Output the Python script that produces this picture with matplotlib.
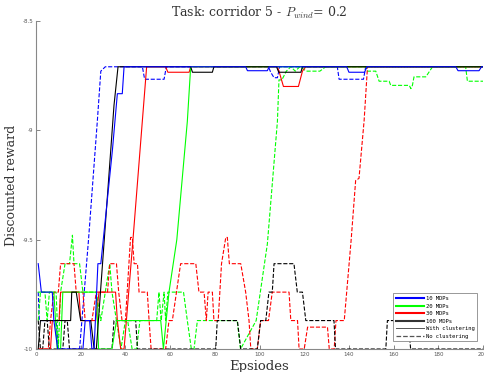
import matplotlib.pyplot as plt
from matplotlib.ticker import FormatStrFormatter

# episode / discounted-reward breakpoints
# 10 MDPs
ep_10_cl = [1, 2.4, 7.3, 8, 9.7, 21, 22, 24, 25, 26, 27.7, 29, 34.2, 36.4, 38.6, 39.4, 93.8, 94.6, 103.5, 104.3,
            139, 140, 147, 148, 187.8, 188.8, 198.2, 199.3, 200]
rw_10_cl = [-9.61, -9.74, -9.74, -9.87, -10, -10, -9.87, -9.87, -10, -10, -9.61, -9.61, -9.09, -8.833, -8.833, -8.71,
            -8.71, -8.728, -8.728, -8.71, -8.71, -8.735, -8.735, -8.71, -8.71, -8.728, -8.728, -8.71, -8.71]
ep_10_nc = [1, 1.5, 9, 10, 19.5, 23.5, 27.5, 29, 31, 47.6, 48.6, 57.3, 58.3, 104, 105, 106.5, 108, 109,
            134.8, 135.6, 146.5, 147.5, 200]
rw_10_nc = [-9.74, -9.87, -9.87, -10, -10, -9.5, -8.95, -8.73, -8.71, -8.71, -8.767, -8.767, -8.71, -8.71, -8.735,
            -8.76, -8.76, -8.71, -8.71, -8.767, -8.767, -8.71, -8.71]

# 20 MDPs
ep_20_cl = [1, 8, 9.5, 11, 12, 27, 28, 34, 36, 55.8, 57, 59.5, 63, 67.7, 69.2, 200]
rw_20_cl = [-9.74, -9.74, -10, -10, -9.74, -9.74, -10, -10, -9.87, -9.87, -10, -9.74, -9.5, -8.96, -8.71, -8.71]
ep_20_nc = [1, 2, 4, 5, 6, 9, 10, 11, 13, 15, 16.3, 17, 19.5, 21, 27, 29, 31, 33, 34, 36, 38, 40, 41, 43, 45,
            46.5, 54, 55, 56, 57.3, 58, 59, 66, 67.7, 69.5, 70.7, 72.2, 90, 91.5, 98.5, 103.5, 108, 108.7, 110,
            112, 114, 116, 118, 121, 127, 129.6, 147.5, 148.3, 152, 153.5, 158, 158.7, 167, 167.7, 168.4, 169.1,
            174.4, 177.4, 192.2, 193, 200]
rw_20_nc = [-9.87, -9.74, -9.74, -9.87, -9.74, -9.74, -10, -9.74, -9.61, -9.61, -9.48, -9.61, -9.61, -9.74,
            -9.74, -9.87, -9.74, -9.61, -9.74, -9.87, -10, -9.87, -9.87, -10, -10, -9.87, -9.87, -9.74, -9.87,
            -9.74, -9.87, -9.74, -9.74, -9.87, -10, -10, -9.87, -9.87, -10, -9.87, -9.52, -8.96, -8.77, -8.77,
            -8.73, -8.71, -8.73, -8.71, -8.73, -8.73, -8.71, -8.71, -8.73, -8.73, -8.776, -8.776, -8.795, -8.795,
            -8.81, -8.795, -8.756, -8.756, -8.71, -8.71, -8.776, -8.776]

# 30 MDPs
ep_30_cl = [1, 6.5, 7.3, 10.3, 11, 19.2, 20, 26.7, 28.2, 35.6, 36.4, 37.9, 39.4, 43, 47.6, 49.5, 58, 59, 68.5,
            69.2, 108, 108.7, 110.7, 117.4, 119.2, 120.7, 200]
rw_30_cl = [-10, -10, -9.87, -9.87, -9.74, -9.74, -9.87, -9.87, -9.74, -9.74, -9.87, -10, -10, -9.55, -8.955,
            -8.71, -8.71, -8.735, -8.735, -8.71, -8.71, -8.73, -8.80, -8.80, -8.73, -8.71, -8.71]
ep_30_nc = [1, 5.5, 6.5, 8, 10, 11, 17, 18, 21, 22, 25, 27, 32, 33, 36, 37, 38.5, 40, 42.3, 43.1, 43.9, 45.4,
            46.1, 49.8, 50.6, 51.5, 58, 59.5, 61, 64.7, 71.5, 72.9, 75.2, 76.2, 77, 78.9, 79.6, 81.5, 83, 84.9,
            85.6, 86.5, 91.6, 93.8, 95.3, 96.1, 99, 100.5, 104, 105.7, 113.2, 114, 117, 117.7, 120, 121.5, 130.4,
            131.2, 133.4, 134.2, 137.9, 141, 143, 144.5, 146.8, 148.3, 200]
rw_30_nc = [-10, -10, -9.87, -9.74, -9.74, -9.61, -9.61, -9.74, -9.74, -9.87, -9.87, -9.74, -9.74, -9.61, -9.61,
            -9.74, -9.87, -9.87, -9.49, -9.49, -9.61, -9.61, -9.74, -9.74, -9.87, -10, -10, -9.87, -9.87, -9.61,
            -9.61, -9.74, -9.74, -9.87, -9.74, -9.74, -9.87, -9.87, -9.61, -9.49, -9.49, -9.61, -9.61, -9.74,
            -9.87, -10, -10, -9.87, -9.87, -9.74, -9.74, -9.87, -9.87, -10, -10, -9.9, -9.9, -10, -10, -9.87,
            -9.87, -9.5, -9.23, -9.22, -8.955, -8.71, -8.71]

# 100 MDPs
ep_100_cl = [1, 2, 15.5, 16, 18, 20, 24.5, 26, 27, 34.9, 36.7, 69.2, 70, 78.9, 79.6, 107.6, 108.6, 118.5, 119.2, 200]
rw_100_cl = [-10, -9.87, -9.87, -9.74, -9.74, -9.87, -9.87, -10, -10, -8.886, -8.71, -8.71, -8.735, -8.735,
             -8.71, -8.71, -8.735, -8.735, -8.71, -8.71]
ep_100_nc = [1, 2, 3, 4, 5, 6, 12, 13, 14, 15, 34, 34.9, 44.6, 45.4, 80.4, 81.1, 90.1, 91.6, 99, 100.5, 102.8,
             104.2, 105.7, 106.5, 115.4, 116.9, 119.2, 120.7, 133.3, 134, 156.5, 157.2, 166.5, 167.6, 200]
rw_100_nc = [-9.87, -10, -10, -9.87, -9.87, -10, -10, -9.87, -9.87, -10, -10, -9.87, -9.87, -10, -10, -9.87,
             -9.87, -10, -10, -9.87, -9.87, -9.74, -9.74, -9.61, -9.61, -9.74, -9.74, -9.87, -9.87, -10, -10,
             -9.87, -9.87, -10, -10]

fig = plt.figure(figsize=(4.85, 3.72), dpi=100)
plt.rcParams['mathtext.fontset'] = 'cm'
ax = fig.add_axes([0.0742, 0.0618, 0.9218, 0.8822])

lw = 0.8
ax.plot(ep_10_nc, rw_10_nc, color='#0000ff', ls='--', lw=lw)
ax.plot(ep_20_nc, rw_20_nc, color='#00ff00', ls='--', lw=lw)
ax.plot(ep_30_nc, rw_30_nc, color='#ff0000', ls='--', lw=lw)
ax.plot(ep_100_nc, rw_100_nc, color='black', ls='--', lw=lw)
ax.plot(ep_30_cl, rw_30_cl, color='#ff0000', lw=lw)
ax.plot(ep_20_cl, rw_20_cl, color='#00ff00', lw=lw)
ax.plot(ep_100_cl, rw_100_cl, color='black', lw=lw)
ax.plot(ep_10_cl, rw_10_cl, color='#0000ff', lw=lw)

ax.set_xlim(0, 200)
ax.set_ylim(-10, -8.5)
ax.set_xticks(range(0, 201, 20))
ax.set_yticks([-10, -9.5, -9, -8.5])
ax.yaxis.set_major_formatter(FormatStrFormatter('%g'))
ax.tick_params(direction='in', length=3, width=0.5, labelsize=4, colors='#555555', pad=2)
for s in ['top', 'right']:
    ax.spines[s].set_visible(False)
for s in ['left', 'bottom']:
    ax.spines[s].set_color('#888888')
    ax.spines[s].set_linewidth(0.8)

ax.set_title(r'Task: corridor 5 - $P_{wind}$= 0.2', fontsize=9, family='DejaVu Serif', color='#333333', pad=3)
ax.set_xlabel('Epsiodes', fontsize=9.5, family='DejaVu Serif', color='#333333', labelpad=2)
ax.set_ylabel('Discounted reward', fontsize=9, family='DejaVu Serif', color='#333333', labelpad=3)

# legend entries
handles = [
    plt.Line2D([], [], color='#0000ff', lw=1.5),
    plt.Line2D([], [], color='#00ff00', lw=1.5),
    plt.Line2D([], [], color='#ff0000', lw=1.5),
    plt.Line2D([], [], color='#333333', lw=1.5),
    plt.Line2D([], [], color='#555555', lw=0.7),
    plt.Line2D([], [], color='#555555', lw=0.9, ls='--'),
]
labels = ['10 MDPs', '20 MDPs', '30 MDPs', '100 MDPs', 'With clustering', 'No clustering']
leg = ax.legend(handles, labels, loc='lower right', bbox_to_anchor=(0.993, 0.015),
                prop={'family': 'DejaVu Sans Mono', 'size': 4}, handlelength=5, handletextpad=0.3,
                borderpad=0.5, labelspacing=0.45, fancybox=False, framealpha=1)
leg.get_frame().set_edgecolor('#888888')
leg.get_frame().set_linewidth(0.6)

plt.savefig('out.png', dpi=100)
